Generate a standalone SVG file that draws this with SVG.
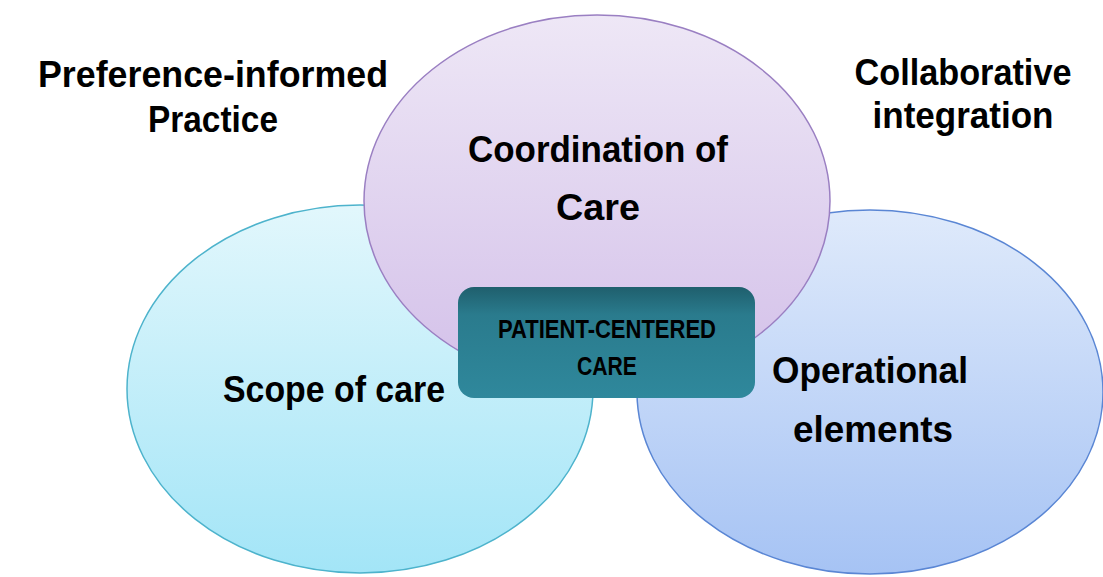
<svg xmlns="http://www.w3.org/2000/svg" width="1103" height="577" viewBox="0 0 1103 577">
<defs>
<linearGradient id="gCyan" x1="0" y1="0" x2="0" y2="1">
<stop offset="0" stop-color="#e2f7fc"/>
<stop offset="1" stop-color="#a3e5f7"/>
</linearGradient>
<linearGradient id="gBlue" x1="0" y1="0" x2="0" y2="1">
<stop offset="0" stop-color="#dfeafb"/>
<stop offset="1" stop-color="#a6c3f4"/>
</linearGradient>
<linearGradient id="gPurple" x1="0" y1="0" x2="0" y2="1">
<stop offset="0" stop-color="#eee7f6"/>
<stop offset="1" stop-color="#d3c0e9"/>
</linearGradient>
<linearGradient id="gBox" x1="0" y1="0" x2="0" y2="1">
<stop offset="0" stop-color="#1f5f6d"/>
<stop offset="0.25" stop-color="#2a7b8d"/>
<stop offset="1" stop-color="#2f889c"/>
</linearGradient>
</defs>
<style>
text { font-family: "Liberation Sans", Arial, sans-serif; fill: #000; text-anchor: middle; }
.lbl { font-size: 37px; font-weight: bold; }
.box { font-size: 25px; font-weight: bold; }
</style>
<rect width="1103" height="577" fill="#ffffff"/>
<g id="preference-informed">
<text class="lbl" x="213" y="87" textLength="350" lengthAdjust="spacingAndGlyphs">Preference-informed</text>
<text class="lbl" x="213" y="132" textLength="130" lengthAdjust="spacingAndGlyphs">Practice</text>
</g>
<g id="collaborative">
<text class="lbl" x="963" y="85" textLength="217" lengthAdjust="spacingAndGlyphs">Collaborative</text>
<text class="lbl" x="963" y="128" textLength="181" lengthAdjust="spacingAndGlyphs">integration</text>
</g>
<g id="scope">
<ellipse cx="360" cy="389" rx="233" ry="184" fill="url(#gCyan)" stroke="#4db3cc" stroke-width="1.5"/>
<text class="lbl" x="334" y="402" textLength="222" lengthAdjust="spacingAndGlyphs">Scope of care</text>
</g>
<g id="operational">
<ellipse cx="870" cy="392" rx="233" ry="182" fill="url(#gBlue)" stroke="#5a86d4" stroke-width="1.5"/>
<text class="lbl" x="870" y="383" textLength="196" lengthAdjust="spacingAndGlyphs">Operational</text>
<text class="lbl" x="873" y="442" textLength="160" lengthAdjust="spacingAndGlyphs">elements</text>
</g>
<g id="coordination">
<ellipse cx="597" cy="201" rx="233" ry="186" fill="url(#gPurple)" stroke="#9a7fc2" stroke-width="1.5"/>
<text class="lbl" x="598" y="162" textLength="260" lengthAdjust="spacingAndGlyphs">Coordination of</text>
<text class="lbl" x="598" y="220" textLength="84" lengthAdjust="spacingAndGlyphs">Care</text>
</g>
<g id="connectors"></g>
<g id="patient-centered">
<rect x="458" y="287" width="297" height="111" rx="16" ry="16" fill="url(#gBox)"/>
<text class="box" x="607" y="338" textLength="218" lengthAdjust="spacingAndGlyphs">PATIENT-CENTERED</text>
<text class="box" x="607" y="375" textLength="60" lengthAdjust="spacingAndGlyphs">CARE</text>
</g>
</svg>
